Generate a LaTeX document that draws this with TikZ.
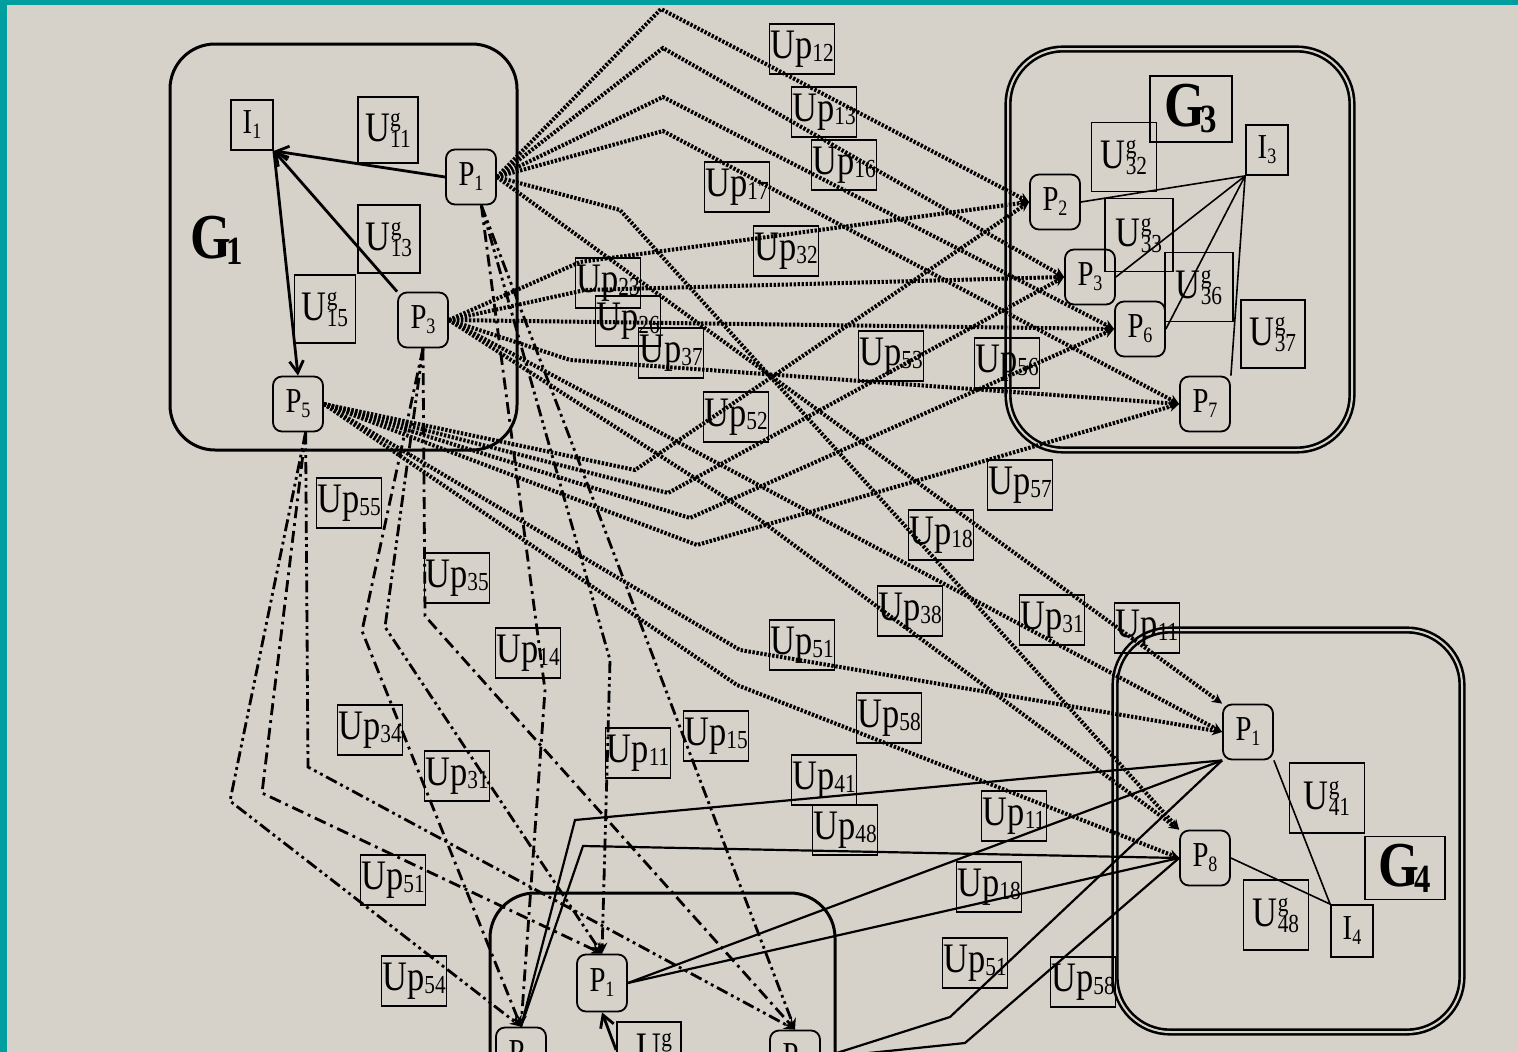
\documentclass[tikz,border=0pt]{standalone}
\usepackage{fontspec}
\setmainfont{Liberation Serif}[FakeStretch=0.82]
\usetikzlibrary{arrows.meta}

\definecolor{bgcol}{RGB}{214,210,202}
\definecolor{edgecol}{RGB}{0,158,158}

% label texts
\newcommand{\uplab}[1]{Up\raisebox{-3pt}{\fontsize{26}{26}\selectfont #1}}
\newcommand{\plab}[1]{P\raisebox{-5pt}{\fontsize{22}{22}\selectfont #1}}
\newcommand{\ilab}[1]{I\raisebox{-5pt}{\fontsize{22}{22}\selectfont #1}}
\newcommand{\uglab}[1]{U\rlap{\raisebox{15pt}{\fontsize{26}{26}\selectfont g}}\raisebox{-6pt}{\fontsize{26}{26}\selectfont #1}}
\newcommand{\glab}[1]{\textbf{G\kern-5pt\raisebox{-6pt}{\fontsize{40}{40}\selectfont #1}}}

\begin{document}
\begin{tikzpicture}[x=1pt, y=-1pt,
  every node/.style={inner sep=0pt, line width=1.8pt},
  proc/.style={draw, rounded corners=9pt, minimum width=50pt, minimum height=55pt,
               font=\fontsize{35}{35}\selectfont},
  upbox/.style={draw, minimum width=65pt, minimum height=50pt,
                font=\fontsize{42}{42}\selectfont},
  ubox/.style={draw, minimum width=64pt, minimum height=69pt,
               font=\fontsize{42}{42}\selectfont},
  ibox/.style={draw, minimum width=42pt, minimum height=50pt,
               font=\fontsize{35}{35}\selectfont},
  gbox/.style={draw, minimum width=82pt, minimum height=66pt,
               font=\fontsize{64}{64}\selectfont},
  group/.style={line width=3pt, rounded corners=45pt},
  dgroup/.style={line width=2.6pt, double=bgcol, double distance=2pt, rounded corners=55pt},
  dotflow/.style={line width=4pt, dash pattern=on 2.4pt off 1.6pt,
                  -{Stealth[length=10pt,width=10pt]}},
  dashdot/.style={line width=2.8pt, dash pattern=on 12pt off 5pt on 2.8pt off 5pt,
                  -{Stealth[length=11pt,width=10pt]}},
  dashdotdot/.style={line width=2.8pt,
                  dash pattern=on 12pt off 4pt on 2.8pt off 4pt on 2.8pt off 4pt,
                  -{Stealth[length=11pt,width=10pt]}},
  plain/.style={line width=2.2pt},
  link/.style={line width=1.6pt},
  arrow/.style={line width=2.8pt, -{Straight Barb[length=12pt,width=14pt]}}
]
\useasboundingbox (0,0) rectangle (1518,1052);
\clip (0,0) rectangle (1518,1052);
\fill[edgecol] (0,0) rectangle (1518,1052);
\fill[bgcol] (7,5) rectangle (1518,1052);

% --- Group frames ---
\draw[group] (170,44) rectangle (517,450);
\draw[dgroup] (1008,49) rectangle (1352,450);
\draw[dgroup] (1115,630) rectangle (1462,1032);
\draw[group] (490,893) rectangle (835,1150);

% --- G1 ---
\node[font=\fontsize{64}{64}\selectfont] (g1) at (217,240) {\glab{1}};
\node[ibox] (i1) at (252,125) {\ilab{1}};
\node[ubox, minimum width=60pt, minimum height=66pt] (u11) at (388,130) {\uglab{11}};
\node[proc] (p1) at (471,177) {\plab{1}};
\node[ubox, minimum width=62pt, minimum height=68pt] (u13) at (389,239) {\uglab{13}};
\node[ubox, minimum width=61pt, minimum height=68pt] (u15) at (325,309) {\uglab{15}};
\node[proc] (p3) at (423,320) {\plab{3}};
\node[proc] (p5) at (298,404) {\plab{5}};

% --- G3 ---
\node[gbox] (g3) at (1191,109) {\glab{3}};
\node[ibox] (i3) at (1267,150) {\ilab{3}};
\node[ubox, minimum width=65pt] (u32) at (1124,157) {\uglab{32}};
\node[proc] (p2c) at (1055,202) {\plab{2}};
\node[ubox, minimum width=68pt, minimum height=73pt] (u33) at (1139,235) {\uglab{33}};
\node[proc] (p3c) at (1090,277) {\plab{3}};
\node[ubox, minimum width=68pt] (u36) at (1199,287) {\uglab{36}};
\node[proc] (p6c) at (1140,329) {\plab{6}};
\node[ubox, minimum height=68pt] (u37) at (1273,334) {\uglab{37}};
\node[proc] (p7c) at (1205,404) {\plab{7}};

% --- G4 ---
\node[proc] (p1d) at (1248,732) {\plab{1}};
\node[ubox, minimum width=75pt, minimum height=70pt] (u41) at (1327,798) {\uglab{41}};
\node[proc] (p8d) at (1205,858) {\plab{8}};
\node[gbox, minimum width=80pt, minimum height=63pt] (g4) at (1405,868) {\glab{4}};
\node[ubox, minimum width=65pt, minimum height=70pt] (u48) at (1276,915) {\uglab{48}};
\node[ibox, minimum height=52pt] (i4) at (1352,931) {\ilab{4}};

% --- G2 (cut at the bottom) ---
\node[proc, minimum height=57pt] (p1b) at (602,983) {\plab{1}};
\node[proc] (p4b) at (521,1055) {\plab{4}};
\node[proc] (p5b) at (795,1058) {\plab{5}};
\node[ubox, minimum height=56pt] (ub) at (649,1050) {\uglab{}};

% --- Flow labels ---
\node[upbox] (up12) at (802,49) {\uplab{12}};
\node[upbox] (up13) at (824,112) {\uplab{13}};
\node[upbox] (up16) at (844,165) {\uplab{16}};
\node[upbox] (up17) at (737,187) {\uplab{17}};
\node[upbox] (up32) at (786,251) {\uplab{32}};
\node[upbox] (up23) at (608,283) {\uplab{23}};
\node[upbox] (up26) at (628,321) {\uplab{26}};
\node[upbox] (up37) at (671,353) {\uplab{37}};
\node[upbox] (up53) at (891,356) {\uplab{53}};
\node[upbox] (up52) at (736,417) {\uplab{52}};
\node[upbox] (up56) at (1007,363) {\uplab{56}};
\node[upbox] (up57) at (1020,485) {\uplab{57}};
\node[upbox] (up18a) at (941,535) {\uplab{18}};
\node[upbox] (up38) at (910,611) {\uplab{38}};
\node[upbox] (up31a) at (1052,620) {\uplab{31}};
\node[upbox] (up11a) at (1147,628) {\uplab{11}};
\node[upbox] (up51a) at (802,645) {\uplab{51}};
\node[upbox] (up58a) at (889,718) {\uplab{58}};
\node[upbox] (up41) at (824,780) {\uplab{41}};
\node[upbox] (up48) at (845,830) {\uplab{48}};
\node[upbox] (up11b) at (1014,816) {\uplab{11}};
\node[upbox] (up18b) at (989,887) {\uplab{18}};
\node[upbox] (up51b) at (975,963) {\uplab{51}};
\node[upbox] (up58b) at (1083,982) {\uplab{58}};
\node[upbox] (up55) at (349,503) {\uplab{55}};
\node[upbox] (up35) at (457,578) {\uplab{35}};
\node[upbox] (up14) at (528,653) {\uplab{14}};
\node[upbox] (up34) at (370,730) {\uplab{34}};
\node[upbox] (up31b) at (457,776) {\uplab{31}};
\node[upbox] (up11c) at (638,753) {\uplab{11}};
\node[upbox] (up15) at (716,736) {\uplab{15}};
\node[upbox] (up51c) at (393,880) {\uplab{51}};
\node[upbox] (up54) at (414,981) {\uplab{54}};

% --- Links inside the groups ---
\draw[arrow] (p1.west) -- (i1.south east);
\draw[arrow] (p3.north west) -- (i1.south east);
\draw[arrow] (i1.south east) -- (p5.north);
\draw[link] (i3.south west) -- (p2c.east);
\draw[link] (i3.south west) -- (p3c.east);
\draw[link] (i3.south west) -- (p6c.east);
\draw[link] (i3.south west) -- (p7c.north east);
\draw[link] (p1d.south east) -- (i4.north west);
\draw[link] (p8d.east) -- (i4.north west);
\draw[arrow] (ub.west) -- (p1b.south);

% --- Dotted flows G1 -> G3 / G4 ---
\draw[dotflow] (p1.east) -- (661,9) -- (p2c.west);
\draw[dotflow] (p1.east) -- (663,48) -- (p3c.west);
\draw[dotflow] (p1.east) -- (663,97) -- (p6c.west);
\draw[dotflow] (p1.east) -- (663,131) -- (p7c.west);
\draw[dotflow] (p1.east) -- (p1d.north west);
\draw[dotflow] (p1.east) -- (620,210) -- (p8d.north west);
\draw[dotflow] (p3.east) -- (580,262) -- (p2c.west);
\draw[dotflow] (p3.east) -- (585,290) -- (p3c.west);
\draw[dotflow] (p3.east) -- (p6c.west);
\draw[dotflow] (p3.east) -- (570,360) -- (p7c.west);
\draw[dotflow] (p3.east) -- (p1d.west);
\draw[dotflow] (p3.east) -- (760,520) -- (p8d.north west);
\draw[dotflow] (p5.east) -- (635,470) -- (p2c.west);
\draw[dotflow] (p5.east) -- (668,493) -- (p3c.west);
\draw[dotflow] (p5.east) -- (690,518) -- (p6c.west);
\draw[dotflow] (p5.east) -- (697,545) -- (p7c.west);
\draw[dotflow] (p5.east) -- (740,650) -- (p1d.west);
\draw[dotflow] (p5.east) -- (737,685) -- (p8d.west);

% --- Dash-dot flows G1 -> G2 ---
\draw[dashdot] (p1.-70) -- (545,690) -- (p4b.north);
\draw[dashdotdot] (p1.-70) -- (610,660) -- (p1b.north);
\draw[dashdotdot] (p1.-70) -- (p5b.north);
\draw[dashdot] (p3.south) -- (362,631) -- (p4b.north);
\draw[dashdotdot] (p3.south) -- (385,627) -- (p1b.north);
\draw[dashdot] (p3.south) -- (425,616) -- (p5b.north);
\draw[dashdotdot] (p5.-75) -- (230,801) -- (p4b.north);
\draw[dashdot] (p5.-75) -- (262,793) -- (p1b.north);
\draw[dashdotdot] (p5.-75) -- (308,767) -- (p5b.north);

% --- Solid flows G2 -> G4 ---
\draw[plain] (p4b.north) -- (575,820) -- (p1d.south west);
\draw[plain] (p4b.north) -- (583,846) -- (p8d.west);
\draw[plain] (p1b.east) -- (p1d.south west);
\draw[plain] (p1b.east) -- (p8d.west);
\draw[plain] (p5b.east) -- (950,1017) -- (p1d.south west);
\draw[plain] (p5b.east) -- (965,1043) -- (p8d.west);

\end{tikzpicture}
\end{document}
